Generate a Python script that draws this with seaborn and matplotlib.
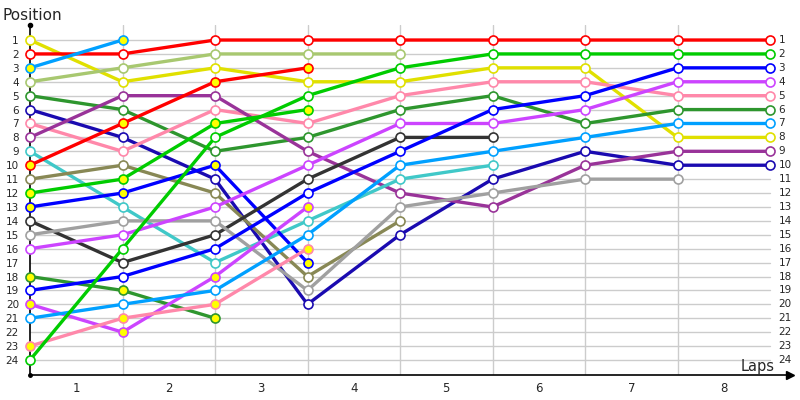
"""
Lap chart - position of each rider after every lap
"""

import numpy as np
import pandas as pd
import matplotlib
matplotlib.use('Agg')
import matplotlib.pyplot as plt
import seaborn as sns

nan = np.nan

# laps 0..8
laps = list(range(9))

# colour of each rider's line
line_colors = [
    '#e0e000', '#ff0000', '#00a0ff', '#a8c870', '#2e962e', '#1a0ab0',
    '#ff88aa', '#993399', '#40c8c8', '#ff0000', '#888855', '#00cc00',
    '#0000ff', '#333333', '#a0a0a0', '#cc44ff', '#2e962e', '#0000ff',
    '#cc44ff', '#00a0ff', '#ff88aa', '#00cc00',
]
# marker fill of each rider
fill_colors = [
    'white', 'white', '#ffff00', 'white', 'white', 'white',
    'white', 'white', 'white', '#ffff00', 'white', '#ffff00',
    '#ffff00', 'white', 'white', 'white', '#ffff00', 'white',
    '#ffff00', 'white', '#ffff00', 'white',
]
# position after each lap (nan = retired)
positions = [
    [1, 4, 3, 4, 4, 3, 3, 8, 8],
    [2, 2, 1, 1, 1, 1, 1, 1, 1],
    [3, 1, nan, nan, nan, nan, nan, nan, nan],
    [4, 3, 2, 2, 2, nan, nan, nan, nan],
    [5, 6, 9, 8, 6, 5, 7, 6, 6],
    [6, 8, 11, 20, 15, 11, 9, 10, 10],
    [7, 9, 6, 7, 5, 4, 4, 5, 5],
    [8, 5, 5, 9, 12, 13, 10, 9, 9],
    [9, 13, 17, 14, 11, 10, nan, nan, nan],
    [10, 7, 4, 3, nan, nan, nan, nan, nan],
    [11, 10, 12, 18, 14, nan, nan, nan, nan],
    [12, 11, 7, 6, nan, nan, nan, nan, nan],
    [13, 12, 10, 17, nan, nan, nan, nan, nan],
    [14, 17, 15, 11, 8, 8, nan, nan, nan],
    [15, 14, 14, 19, 13, 12, 11, 11, nan],
    [16, 15, 13, 10, 7, 7, 6, 4, 4],
    [18, 19, 21, nan, nan, nan, nan, nan, nan],
    [19, 18, 16, 12, 9, 6, 5, 3, 3],
    [20, 22, 18, 13, nan, nan, nan, nan, nan],
    [21, 20, 19, 15, 10, 9, 8, 7, 7],
    [23, 21, 20, 16, nan, nan, nan, nan, nan],
    [24, 16, 8, 5, 3, 2, 2, 2, 2],
]

y_labels = [str(i) for i in range(1, 25)]
x_labels = [str(i) for i in range(1, 9)]

# long table
rows = []
for rider, pos in enumerate(positions):
    for lap, p in zip(laps, pos):
        rows.append({'rider': rider, 'lap': lap, 'pos': p})
df = pd.DataFrame(rows).dropna()

sns.set_style('white')
plt.rcParams['font.family'] = ['DejaVu Sans']

fig = plt.figure(figsize=(8, 4), dpi=100)
ax = fig.add_axes([30 / 800, 25 / 400, 760 / 800, 350 / 400])

# grid
for p in range(1, 25):
    ax.axhline(p, color='#cccccc', lw=1, zorder=0, xmax=8 / 8.216)
for lap in range(1, 8):
    ax.axvline(lap, color='#cccccc', lw=1, zorder=0)

for rider in range(len(positions)):
    sub = df[df['rider'] == rider]
    sns.lineplot(data=sub, x='lap', y='pos', ax=ax, color=line_colors[rider],
                 linewidth=2.4, marker='o', markersize=6.5,
                 markerfacecolor=fill_colors[rider],
                 markeredgecolor=line_colors[rider], markeredgewidth=1.2,
                 estimator=None, sort=False, legend=False, zorder=3,
                 clip_on=False)

ax.set_xlim(0, 8.216)
ax.set_ylim(25.08, -0.08)

ax.set_yticks(range(1, 25))
ax.set_yticklabels(y_labels, fontsize=7.5)
ax.tick_params(axis='y', length=0, pad=8)
ax.set_xticks(np.arange(0.5, 8, 1))
ax.set_xticklabels(x_labels, fontsize=8.5)
ax.tick_params(axis='x', length=0, pad=5)
ax.set_xlabel('')
ax.set_ylabel('')

# right side labels
for p, lab in zip(range(1, 25), y_labels):
    ax.text(8.09, p, lab, fontsize=7.5, ha='left', va='center')

for s in ['top', 'right']:
    ax.spines[s].set_visible(False)
for s in ['left', 'bottom']:
    ax.spines[s].set_color('black')
    ax.spines[s].set_linewidth(1.2)
    ax.spines[s].set_zorder(1)

# axis arrows
ax.plot(0, 1, marker='o', color='black', markersize=3,
        transform=ax.transAxes, clip_on=False)
ax.plot(1, 0, marker='>', color='black', markersize=6,
        transform=ax.transAxes, clip_on=False)
ax.plot(0, 0, marker='o', color='black', markersize=2.5,
        transform=ax.transAxes, clip_on=False)

fig.text(2 / 800, 1 - 16 / 400, 'Position', fontsize=11, va='center', ha='left')
fig.text(775 / 800, 1 - 366 / 400, 'Laps', fontsize=10.5, va='center', ha='right')

fig.savefig('out.png', dpi=100)
